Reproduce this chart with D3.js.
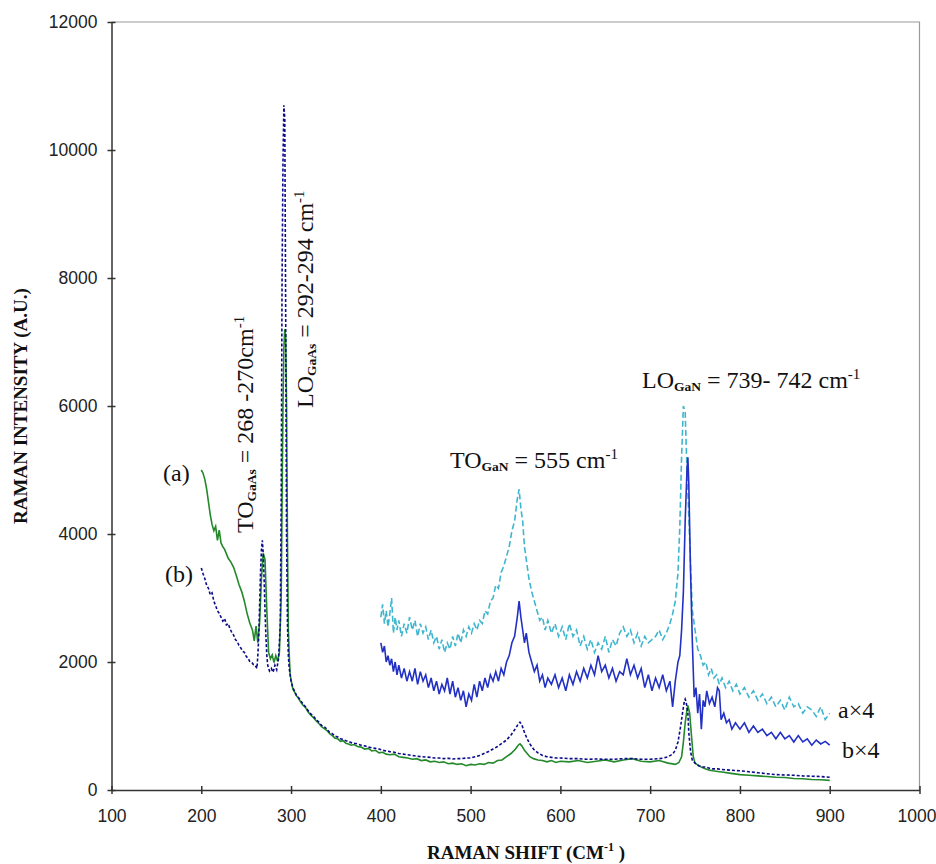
<!DOCTYPE html>
<html>
<head>
<meta charset="utf-8">
<script src="https://cdn.jsdelivr.net/npm/d3@7"></script>
<style>
body { margin: 0; background: #fff; }
.axis .tick text { font-family: "Liberation Sans", Arial, sans-serif; font-size: 17.5px; fill: #222; }
.axis path, .axis line { stroke: #333; stroke-width: 1.5; }
.note { font-family: "Liberation Serif", "Times New Roman", serif; font-size: 24px; fill: #111; white-space: pre; }
.title { font-family: "Liberation Serif", "Times New Roman", serif; font-weight: bold; font-size: 19px; fill: #111; white-space: pre; }
</style>
</head>
<body>
<div id="graph"></div>
<script>
var xTicks = [100, 200, 300, 400, 500, 600, 700, 800, 900, 1000];
var yTicks = [0, 2000, 4000, 6000, 8000, 10000, 12000];

// spectrum (a), green
var seriesA = [[200,5000],[202,4950],[204,4850],[206,4700],[208,4500],[210,4300],[212,4150],[214,4050],[216,4120],[218,3900],[220,4060],[222,3860],[224,3800],[226,3760],[228,3690],[230,3620],[233,3560],[236,3480],[239,3350],[242,3210],[245,3100],[248,2950],[251,2760],[254,2610],[257,2500],[259,2330],[261,2560],[263,2300],[265,2620],[267,3300],[269,3700],[271,3600],[273,2800],[275,2150],[277,2050],[279,2110],[281,1990],[283,2100],[285,2010],[287,2150],[289,3000],[290,4500],[291,6000],[292,6900],[293,7200],[294,7100],[295,6000],[296,3900],[297,2500],[298,2100],[299,1800],[300,1720],[302,1580],[304,1530],[306,1470],[308,1440],[310,1390],[313,1330],[316,1290],[319,1220],[322,1170],[325,1130],[328,1080],[331,1040],[334,990],[337,960],[340,930],[343,880],[346,850],[349,810],[352,800],[355,760],[358,770],[361,730],[364,720],[367,700],[370,710],[374,680],[378,670],[382,640],[386,650],[390,610],[394,620],[398,580],[402,590],[406,560],[410,550],[415,560],[420,520],[425,510],[430,500],[435,480],[440,490],[445,460],[450,470],[455,440],[460,450],[465,430],[470,440],[475,410],[480,420],[485,400],[490,410],[495,380],[500,400],[505,390],[510,410],[515,400],[520,430],[525,420],[530,460],[535,470],[540,520],[545,570],[550,640],[553,700],[555,720],[557,690],[560,620],[563,570],[566,520],[570,490],[575,470],[580,460],[585,440],[590,460],[595,430],[600,450],[610,440],[620,460],[630,430],[640,450],[650,470],[660,440],[670,470],[680,490],[690,450],[700,440],[710,460],[720,420],[728,400],[732,430],[735,520],[737,750],[739,1050],[741,1250],[742,1320],[744,1200],[746,850],[748,520],[750,420],[754,380],[758,350],[762,330],[766,310],[770,300],[775,290],[780,280],[790,260],[800,240],[810,230],[820,220],[830,210],[840,200],[850,195],[860,180],[870,175],[880,165],[890,160],[900,150]];

// spectrum (b), navy dashed
var seriesB = [[200,3470],[202,3380],[204,3300],[206,3200],[208,3150],[210,3050],[212,3080],[214,2950],[216,2880],[218,2800],[220,2760],[222,2700],[224,2640],[226,2680],[228,2580],[230,2600],[232,2520],[234,2460],[236,2420],[238,2350],[240,2320],[242,2260],[244,2220],[246,2170],[248,2150],[250,2090],[252,2060],[254,2010],[256,2000],[258,1960],[260,1950],[262,1900],[263,2100],[264,2400],[265,2900],[266,3400],[267,3750],[268,3900],[269,3700],[270,3300],[271,2800],[272,2400],[273,2100],[274,1950],[276,1860],[278,1900],[280,1840],[282,1950],[284,1880],[286,2050],[287,2300],[288,2600],[289,4500],[290,8000],[291,9800],[292,10700],[293,10500],[294,7500],[295,4000],[296,2600],[297,2100],[298,1900],[300,1700],[302,1600],[304,1540],[306,1480],[308,1450],[310,1410],[313,1350],[316,1300],[319,1240],[322,1190],[325,1150],[328,1100],[331,1060],[334,1010],[337,990],[340,950],[343,900],[346,880],[349,840],[352,830],[355,800],[358,790],[361,770],[364,760],[367,740],[370,730],[374,720],[378,700],[382,690],[386,670],[390,660],[394,650],[398,640],[402,620],[406,610],[410,600],[415,590],[420,570],[425,560],[430,550],[435,540],[440,530],[445,520],[450,515],[455,510],[460,500],[465,500],[470,490],[475,495],[480,485],[485,490],[490,490],[495,500],[500,500],[505,520],[510,540],[515,570],[520,600],[525,640],[530,680],[535,730],[540,780],[545,860],[550,960],[553,1030],[555,1060],[557,1020],[560,900],[563,800],[566,720],[570,640],[575,580],[580,540],[585,520],[590,510],[595,500],[600,500],[610,490],[620,490],[630,480],[640,485],[650,480],[660,480],[670,490],[680,490],[690,480],[700,480],[710,490],[715,500],[720,520],[725,560],[728,620],[731,750],[734,1000],[736,1200],[738,1380],[739,1420],[740,1380],[742,1200],[743,900],[745,600],[747,460],[750,420],[754,380],[758,360],[762,360],[766,340],[770,330],[775,330],[780,320],[790,310],[800,300],[810,285],[820,270],[830,255],[840,240],[850,235],[860,230],[870,220],[880,215],[890,210],[900,200]];

// a x4, cyan dashed
var seriesA4 = [[400,2700],[402,2900],[404,2600],[406,2800],[408,2550],[410,2750],[412,3000],[414,2450],[416,2700],[418,2500],[420,2650],[423,2400],[426,2600],[429,2450],[432,2700],[435,2500],[438,2650],[441,2400],[444,2600],[447,2450],[450,2550],[453,2350],[456,2500],[459,2300],[462,2400],[465,2200],[468,2350],[471,2150],[474,2300],[477,2200],[480,2400],[483,2250],[486,2450],[489,2300],[492,2500],[495,2400],[498,2550],[501,2450],[504,2600],[507,2500],[510,2650],[513,2600],[516,2800],[519,2750],[522,2950],[525,3000],[528,3200],[531,3150],[534,3400],[537,3500],[540,3650],[543,3800],[546,4050],[549,4200],[552,4550],[554,4700],[556,4400],[558,4200],[560,3800],[562,3600],[565,3300],[568,3100],[571,2950],[574,2800],[577,2650],[580,2700],[583,2500],[586,2650],[590,2450],[594,2600],[598,2400],[602,2550],[606,2350],[610,2600],[614,2400],[618,2500],[622,2250],[626,2400],[630,2200],[634,2350],[638,2150],[642,2300],[646,2200],[650,2400],[654,2150],[658,2350],[662,2250],[666,2450],[670,2550],[674,2400],[678,2500],[682,2300],[686,2450],[690,2250],[694,2400],[698,2300],[702,2350],[706,2400],[710,2500],[714,2350],[718,2450],[722,2600],[725,2750],[728,2950],[731,3400],[733,4100],[735,5200],[737,6000],[739,5900],[741,5000],[743,4300],[745,3500],[747,2800],[750,2500],[753,2200],[756,2100],[759,1950],[762,2000],[765,1800],[768,1900],[771,1750],[774,1800],[777,1650],[780,1750],[784,1600],[788,1700],[792,1550],[796,1650],[800,1500],[805,1600],[810,1450],[815,1550],[820,1400],[825,1500],[830,1350],[835,1450],[840,1300],[845,1400],[850,1250],[855,1450],[860,1300],[865,1350],[870,1200],[875,1300],[880,1250],[885,1150],[890,1300],[895,1100],[900,1200]];

// b x4, blue
var seriesB4 = [[400,2300],[402,2150],[404,2250],[406,2000],[408,2100],[410,1950],[412,2050],[414,1850],[416,2000],[418,1800],[420,1950],[423,1750],[426,1900],[429,1700],[432,1850],[435,1700],[438,1900],[441,1650],[444,1850],[447,1700],[450,1800],[453,1600],[456,1750],[459,1550],[462,1700],[465,1500],[468,1650],[471,1550],[474,1750],[477,1500],[480,1700],[483,1450],[486,1600],[489,1400],[492,1550],[495,1300],[498,1500],[501,1400],[504,1650],[507,1450],[510,1700],[513,1550],[516,1750],[519,1600],[522,1800],[525,1700],[528,1850],[531,1700],[534,1900],[537,1800],[540,2000],[543,2100],[546,2300],[549,2400],[552,2700],[554,2950],[556,2700],[558,2500],[560,2300],[562,2450],[565,2150],[568,2000],[571,1850],[574,1950],[577,1700],[580,1800],[583,1600],[586,1750],[590,1650],[594,1800],[598,1600],[602,1750],[606,1550],[610,1800],[614,1650],[618,1850],[622,1700],[626,1900],[630,1750],[634,1950],[638,1800],[642,2100],[646,1850],[650,1950],[654,1750],[658,1900],[662,1700],[666,1850],[670,1800],[674,2050],[678,1800],[682,1950],[686,1750],[690,1900],[694,1600],[698,1800],[702,1550],[706,1750],[710,1600],[714,1800],[718,1550],[722,1700],[725,1300],[728,1700],[731,2000],[733,2100],[735,2500],[737,3100],[739,4200],[741,5000],[742,5200],[743,4800],[745,3400],[747,2300],[749,1450],[751,1600],[753,1200],[755,1500],[757,950],[759,1400],[761,1300],[763,1550],[766,1350],[769,1450],[772,1300],[775,1600],[777,1550],[779,1100],[782,1200],[785,1050],[788,1100],[791,950],[795,1050],[800,950],[805,1050],[810,900],[815,1000],[820,900],[825,950],[830,850],[835,900],[840,800],[845,900],[850,800],[855,850],[860,750],[865,850],[870,750],[875,800],[880,700],[885,780],[890,720],[895,760],[900,700]];

var margin = {top: 22, right: 16.5, bottom: 74, left: 111.5};
var width = 936 - margin.left - margin.right,
    height = 864 - margin.top - margin.bottom;

var root = d3.select('#graph')
    .append('svg')
    .attr('width', 936)
    .attr('height', 864);

var svg = root.append('g')
    .attr('transform', 'translate(' + margin.left + ',' + margin.top + ')');

var x = d3.scaleLinear().domain([100, 1000]).range([0, width]);
var y = d3.scaleLinear().domain([0, 12000]).range([height, 0]);

// grey frame on top and right
svg.append('path')
    .attr('d', 'M0,0H' + width + 'V' + height)
    .attr('fill', 'none')
    .attr('stroke', '#9a9a9a')
    .attr('stroke-width', 1.2);

var line = d3.line()
    .x(function(d) { return x(d[0]); })
    .y(function(d) { return y(d[1]); });

svg.append('path').datum(seriesA4)
    .attr('d', line).attr('fill', 'none')
    .attr('stroke', '#3fb6cf').attr('stroke-width', 1.6)
    .attr('stroke-dasharray', '6,3');

svg.append('path').datum(seriesB4)
    .attr('d', line).attr('fill', 'none')
    .attr('stroke', '#2231c4').attr('stroke-width', 1.6);

svg.append('path').datum(seriesA)
    .attr('d', line).attr('fill', 'none')
    .attr('stroke', '#23892a').attr('stroke-width', 1.6);

svg.append('path').datum(seriesB)
    .attr('d', line).attr('fill', 'none')
    .attr('stroke', '#0b0b8a').attr('stroke-width', 1.6)
    .attr('stroke-dasharray', '3,2');

// axes, ticks cross the axis line
var xAxis = d3.axisBottom(x).tickValues(xTicks).tickSizeOuter(0).tickFormat(d3.format('d'));
var gx = svg.append('g').attr('class', 'axis')
    .attr('transform', 'translate(0,' + height + ')')
    .call(xAxis);
gx.selectAll('.tick line').attr('y1', -4).attr('y2', 4);
gx.selectAll('.tick text').attr('y', 20)
    .attr('dx', function(d) { return d === 1000 ? -3 : 0; });

var yAxis = d3.axisLeft(y).tickValues(yTicks).tickSizeOuter(0).tickFormat(d3.format('d'));
var gy = svg.append('g').attr('class', 'axis').call(yAxis);
gy.selectAll('.tick line').attr('x1', 4).attr('x2', -4);
gy.selectAll('.tick text').attr('x', -14);

// axis titles
var xt = root.append('text').attr('class', 'title')
    .attr('x', 526).attr('y', 859).attr('text-anchor', 'middle');
xt.append('tspan').text('RAMAN SHIFT (CM');
xt.append('tspan').attr('font-size', 12).attr('dy', -8).text('-1');
xt.append('tspan').attr('dy', 8).text(' )');

root.append('text').attr('class', 'title')
    .attr('transform', 'translate(27,406) rotate(-90)')
    .attr('text-anchor', 'middle')
    .text('RAMAN INTENSITY (A.U.)');

// peak labels
function peakLabel(tx, ty, angle, main, sub, rest) {
    var t = root.append('text').attr('class', 'note')
        .attr('transform', 'translate(' + tx + ',' + ty + ') rotate(' + angle + ')');
    t.append('tspan').text(main);
    t.append('tspan').attr('font-size', 13.5).attr('font-weight', 'bold').attr('dy', 3).text(sub);
    t.append('tspan').attr('dy', -3).text(rest);
    t.append('tspan').attr('font-size', 15).attr('dy', -9).text('-1');
}

peakLabel(450, 468, 0, 'TO', 'GaN', ' = 555 cm');
peakLabel(642, 388, 0, 'LO', 'GaN', ' = 739- 742 cm');
peakLabel(253, 533, -90, 'TO', 'GaAs', ' = 268 -270cm');
peakLabel(313, 408, -90, 'LO', 'GaAs', ' = 292-294 cm');

root.append('text').attr('class', 'note').attr('x', 163).attr('y', 481).text('(a)');
root.append('text').attr('class', 'note').attr('x', 165).attr('y', 582).text('(b)');
root.append('text').attr('class', 'note').attr('x', 838).attr('y', 718).text('a\u00d74');
root.append('text').attr('class', 'note').attr('x', 842).attr('y', 758).text('b\u00d74');
</script>
</body>
</html>
